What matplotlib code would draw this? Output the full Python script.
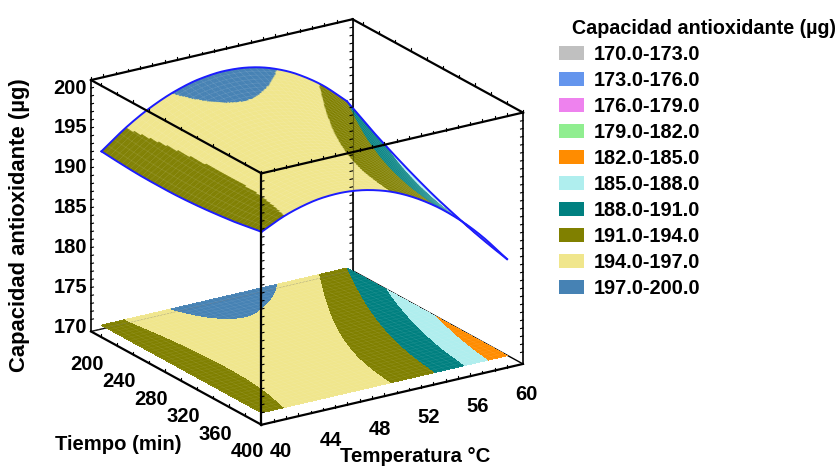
import numpy as np
import matplotlib
matplotlib.use('Agg')
import matplotlib.pyplot as plt
from matplotlib.patches import Patch
from matplotlib.colors import to_rgba
from matplotlib import tri as mtri
from mpl_toolkits.mplot3d import proj3d

plt.rcParams['font.family'] = ['Liberation Sans', 'DejaVu Sans']
plt.rcParams['font.weight'] = 'bold'

# ---- data ----
temperature = [40, 42, 44, 46, 48, 50, 52, 54, 56, 58, 60]
time_min = [200, 240, 280, 320, 360, 400]
z_t200 = [191.78, 194.05, 195.85, 197.17, 197.99, 198.27, 198.00, 197.15, 195.70, 193.63, 190.90]
z_t240 = [191.45, 193.62, 195.26, 196.36, 196.92, 196.93, 196.38, 195.27, 193.58, 191.31, 188.46]
z_t280 = [191.37, 193.41, 194.87, 195.77, 196.09, 195.86, 195.06, 193.71, 191.81, 189.35, 186.36]
z_t320 = [191.55, 193.42, 194.69, 195.38, 195.50, 195.05, 194.04, 192.48, 190.38, 187.75, 184.60]
z_t360 = [191.98, 193.64, 194.71, 195.21, 195.14, 194.51, 193.32, 191.58, 189.31, 186.51, 183.18]
z_t400 = [192.66, 194.07, 194.94, 195.25, 195.01, 194.23, 192.89, 191.01, 188.59, 185.62, 182.10]
band_levels = [170, 173, 176, 179, 182, 185, 188, 191, 194, 197, 200]
band_labels = ['170.0-173.0', '173.0-176.0', '176.0-179.0', '179.0-182.0', '182.0-185.0',
               '185.0-188.0', '188.0-191.0', '191.0-194.0', '194.0-197.0', '197.0-200.0']
band_colors = ['#c0c0c0', '#6495ed', '#ee82ee', '#90ee90', '#ff8c00',
               '#afeeee', '#008080', '#808000', '#f0e68c', '#4682b4']
temp_ticks = [40, 44, 48, 52, 56, 60]
time_ticks = [200, 240, 280, 320, 360, 400]
z_ticks = [170, 175, 180, 185, 190, 195, 200]

TMAX, TIMIN, ZMIN, ZMAX = 61.3, 187, 168.5, 200

fig = plt.figure(figsize=(8.4, 4.66), dpi=100)
S = 470
ax = fig.add_axes([(307 - S / 2) / 840, (244 - S / 2) / 466, S / 840, S / 466],
                  projection='3d', proj_type='ortho', computed_zorder=False)
ax.patch.set_alpha(0)
ax.set_xlim(40, TMAX, view_margin=0)
ax.set_ylim(400, TIMIN, view_margin=0)
ax.set_zlim(ZMIN, ZMAX, view_margin=0)
ax.view_init(elev=20.9, azim=236.9)
zoom = 1.0
aspect = (1, 1, 0.862)
ax.set_box_aspect(aspect, zoom=zoom)


def corners_px():
    M = ax.get_proj()
    pts = []
    for T in (40, TMAX):
        for t in (TIMIN, 400):
            for z in (ZMIN, ZMAX):
                x2, y2, _ = proj3d.proj_transform(T, t, z, M)
                pts.append(ax.transData.transform((x2, y2)))
    return np.array(pts)


# fit the cube to the frame measured in the reference
fig.canvas.draw()
p = corners_px()
zoom *= (523 - 91) / (p[:, 0].max() - p[:, 0].min())
ax.set_box_aspect(aspect, zoom=zoom)
fig.canvas.draw()
p = corners_px()
dx = 307 - (p[:, 0].max() + p[:, 0].min()) / 2
dy = 244 - (p[:, 1].max() + p[:, 1].min()) / 2
pos = ax.get_position()
ax.set_position([pos.x0 + dx / 840, pos.y0 + dy / 466, pos.width, pos.height])

# ---- surface ----
Tg, tg = np.meshgrid(temperature, time_min)
Zg = np.array([z_t200, z_t240, z_t280, z_t320, z_t360, z_t400])
triang = mtri.Triangulation(Tg.ravel(), tg.ravel())
smooth = mtri.CubicTriInterpolator(triang, Zg.ravel(), kind='geom')
X, Y = np.meshgrid(np.linspace(40, 60, 201), np.linspace(200, 400, 201))
Z = np.asarray(smooth(X, Y))
cell = (Z[:-1, :-1] + Z[1:, :-1] + Z[:-1, 1:] + Z[1:, 1:]) / 4
rgba = np.array([to_rgba(c) for c in band_colors])
idx = np.clip(np.digitize(cell, band_levels) - 1, 0, len(band_colors) - 1)
fc = rgba[idx]

edge = dict(color='black', lw=1.6, solid_capstyle='projecting')
# rear frame
ax.plot([40, TMAX], [TIMIN, TIMIN], [ZMIN, ZMIN], color='k', lw=1, zorder=1)
ax.plot([TMAX, TMAX], [TIMIN, 400], [ZMIN, ZMIN], color='k', lw=1, zorder=1)
ax.plot([TMAX, TMAX], [TIMIN, TIMIN], [ZMIN, ZMAX], color='k', lw=1.2, zorder=1)
ax.plot([40, TMAX], [TIMIN, TIMIN], [ZMAX, ZMAX], zorder=1, **edge)
ax.plot([TMAX, TMAX], [TIMIN, 400], [ZMAX, ZMAX], zorder=6, **edge)

# projection on the floor
ax.contourf(X, Y, Z, levels=band_levels, colors=band_colors, zdir='z', offset=170, zorder=2)
ax.plot_wireframe(X, Y, np.full_like(Z, 170.0), rstride=5, cstride=5, color='white',
                  alpha=0.10, linewidth=0.4, zorder=2.5)
ax.plot([40, TMAX], [TIMIN, TIMIN], [ZMIN, ZMIN], color='#777777', lw=0.4, ls=':', zorder=2.6)
# the surface itself
ax.plot_surface(X, Y, Z, facecolors=fc, rstride=1, cstride=1,
                shade=False, linewidth=0.3, zorder=3)
ax.plot_wireframe(X, Y, Z, rstride=5, cstride=5, color='white',
                  alpha=0.14, linewidth=0.4, zorder=3.5)
ax.plot([TMAX, TMAX], [TIMIN, TIMIN], [ZMIN, ZMAX], color='k', lw=0.8, alpha=0.35, zorder=3.6)
for xs, ys, zs in ((X[0], Y[0], Z[0]), (X[-1], Y[-1], Z[-1]),
                   (X[:, 0], Y[:, 0], Z[:, 0]), (X[:, -1], Y[:, -1], Z[:, -1])):
    ax.plot(xs, ys, zs, color='#1c1cff', lw=1.4, zorder=4)

# front frame
ax.plot([40, 40], [400, 400], [ZMIN, ZMAX], zorder=6, **edge)
ax.plot([40, 40], [TIMIN, TIMIN], [ZMIN, ZMAX], color='k', lw=1.2, zorder=6)
ax.plot([TMAX, TMAX], [400, 400], [ZMIN, ZMAX], color='k', lw=1.2, zorder=6)
ax.plot([40, TMAX], [400, 400], [ZMAX, ZMAX], zorder=6, **edge)
ax.plot([40, 40], [TIMIN, 400], [ZMAX, ZMAX], zorder=6, **edge)
ax.plot([40, TMAX], [400, 400], [ZMIN, ZMIN], zorder=6, **edge)
ax.plot([40, 40], [TIMIN, 400], [ZMIN, ZMIN], zorder=6, **edge)


# small tick marks along the frame
def seg3(points):
    a = np.array(points)
    ax.plot(a[:, 0], a[:, 1], a[:, 2], color='k', lw=0.8, zorder=6)


zl = 0.35
for T in np.arange(40, 61):
    for t0, z0 in ((400, ZMIN), (400, ZMAX), (TIMIN, ZMAX)):
        seg3([(T, t0, z0), (T, t0, z0 + zl)])
for t in np.arange(200, 401, 20):
    for T0, z0 in ((40, ZMIN), (40, ZMAX), (TMAX, ZMAX)):
        seg3([(T0, t, z0), (T0, t, z0 + zl)])
for zv in np.arange(170, 201):
    for T0, t0, d in ((40, TIMIN, 0.2), (40, 400, 0.2), (TMAX, 400, -0.2), (TMAX, TIMIN, -0.2)):
        seg3([(T0, t0, zv), (T0 + d, t0, zv)])

# ---- axes: real tick labels, everything else drawn above ----
ax.set_xticks(temp_ticks)
ax.set_yticks(time_ticks)
ax.set_zticks(z_ticks)
ax.grid(False)
for a in (ax.xaxis, ax.yaxis, ax.zaxis):
    a.pane.set_visible(False)
    a.line.set_visible(False)
    a._axinfo['tick']['inward_factor'] = 0
    a._axinfo['tick']['outward_factor'] = 0
ax.tick_params(axis='x', labelsize=14.5, pad=1)
ax.tick_params(axis='y', labelsize=14.5, pad=1.8)
ax.tick_params(axis='z', labelsize=14.5, pad=0.4)
for lab in ax.get_xticklabels():
    lab.set_ha('left')

fig.text(118.5 / 840, 1 - 444 / 466, 'Tiempo (min)', ha='center', va='center', fontsize=14.6)
fig.text(415.5 / 840, 1 - 456 / 466, 'Temperatura °C', ha='center', va='center', fontsize=14.7)
fig.text(20 / 840, 1 - 225 / 466, 'Capacidad antioxidante (µg)', rotation=90,
         ha='center', va='center', fontsize=15.8)
fig.text(704 / 840, 1 - 28 / 466, 'Capacidad antioxidante (µg)', ha='center', va='center', fontsize=14.25)

handles = [Patch(facecolor=c, edgecolor='none', label=l) for c, l in zip(band_colors, band_labels)]
fs = 14.3
leg = fig.legend(handles=handles, loc='upper left', bbox_to_anchor=(559 / 840, 1 - 45 / 466),
                 frameon=False, fontsize=fs, handlelength=1.26, handleheight=0.65,
                 handletextpad=0.5, labelspacing=0.352, borderpad=0, borderaxespad=0)

fig.savefig('out.png', dpi=100)
